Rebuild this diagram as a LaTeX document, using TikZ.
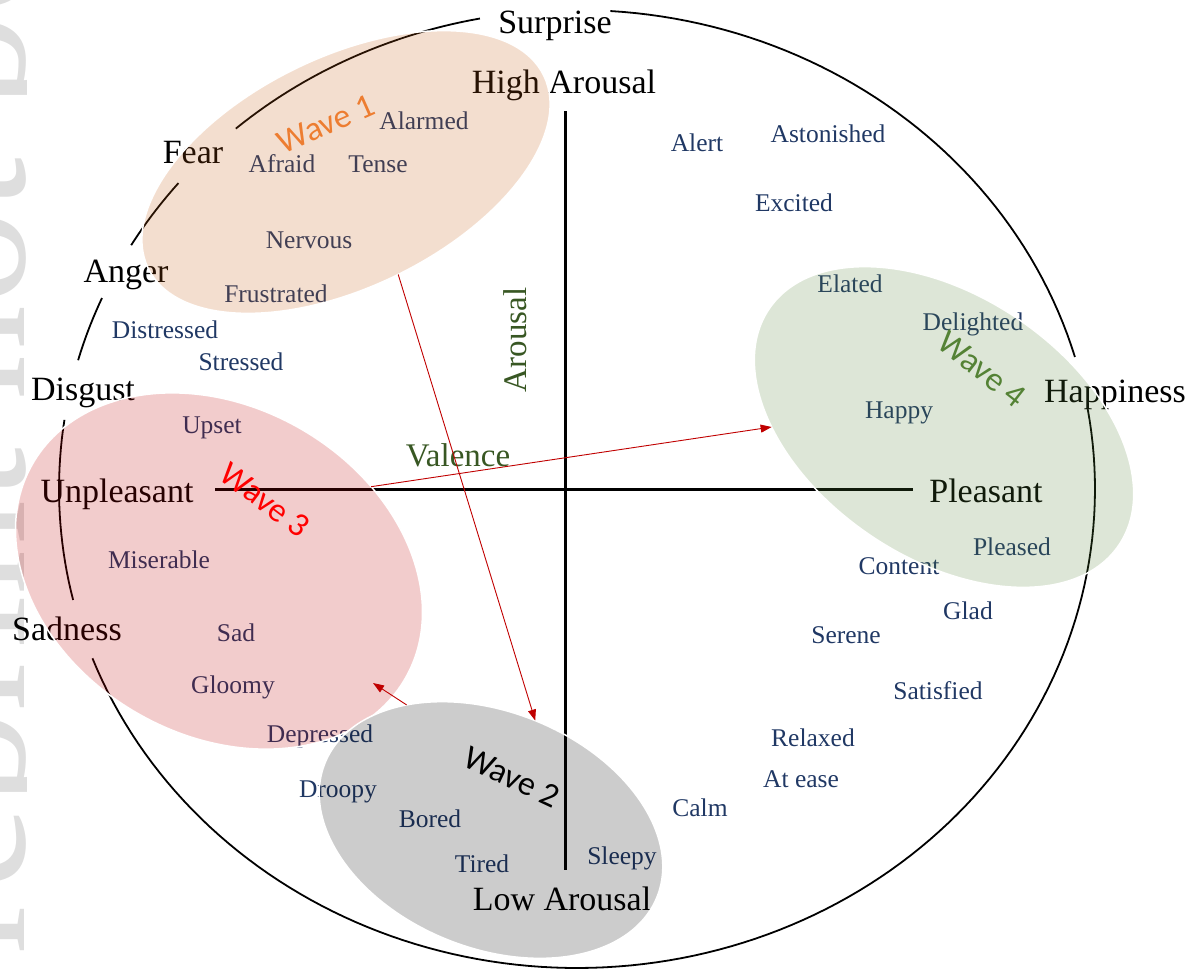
\documentclass[tikz,border=0pt]{standalone}
\usepackage{fontspec}
\setmainfont{Liberation Serif}
\newfontfamily\wavefont{Carlito}
\usetikzlibrary{shapes.geometric, arrows.meta}

\definecolor{navy}{HTML}{203864}
\definecolor{axisgreen}{HTML}{385723}
\definecolor{wavegreen}{HTML}{548235}
\definecolor{waveorange}{HTML}{ED7D31}
\definecolor{peach}{HTML}{C55A11}
\definecolor{rose}{HTML}{C00000}
\definecolor{arrowred}{HTML}{C00000}
\definecolor{markgray}{HTML}{DEDEDE}

\begin{document}
\begin{tikzpicture}[x=1pt, y=-1pt,
  big/.style={font=\fontsize{34}{40}\selectfont, text=black, inner sep=0pt, anchor=base},
  word/.style={font=\fontsize{25.5}{30}\selectfont, text=navy, inner sep=0pt, anchor=base},
  axislabel/.style={font=\fontsize{33}{40}\selectfont, text=axisgreen, inner sep=0pt},
  wavelabel/.style={font=\wavefont\fontsize{34}{40}\selectfont, inner sep=0pt},
  cluster/.style={ellipse, inner sep=0pt, outer sep=0pt, draw=white, line width=1.5pt, fill opacity=0.2},
  rim/.style={line width=1.8pt, black},
  axisline/.style={line width=3pt, black},
  flow/.style={arrowred, line width=0.9pt, -{Triangle[length=11pt, width=8pt]}},
]
\useasboundingbox (0,0) rectangle (1196,970);

% vertical margin stamp, cut by the page edge
\begin{scope}
  \clip (0,0) rectangle (26,970);
  \node[rotate=90, anchor=base west, text=markgray, inner sep=0pt,
        font=\fontsize{190}{200}\selectfont] (stamp) at (24,1060) {Preprint not peer reviewed};
\end{scope}

% emotion wheel, broken where the basic emotions are written
\draw[rim] plot[domain=-86.3:-16, samples=50, variable=\t] ({577+518*cos(\t)}, {489+479*sin(\t)});
\draw[rim] plot[domain=-9.7:159.3, samples=120, variable=\t] ({577+518*cos(\t)}, {489+479*sin(\t)});
\draw[rim] plot[domain=166.6:188.3, samples=20, variable=\t] ({577+518*cos(\t)}, {489+479*sin(\t)});
\draw[rim] plot[domain=195.6:203.5, samples=10, variable=\t] ({577+518*cos(\t)}, {489+479*sin(\t)});
\draw[rim] plot[domain=210.6:219.7, samples=10, variable=\t] ({577+518*cos(\t)}, {489+479*sin(\t)});
\draw[rim] plot[domain=228.8:259.2, samples=30, variable=\t] ({577+518*cos(\t)}, {489+479*sin(\t)});

% arousal / valence axes
\coordinate (ytop) at (565,111);
\coordinate (ybot) at (565,870);
\coordinate (xlft) at (215,489);
\coordinate (xrgt) at (913,489);
\draw[axisline] (ytop) -- (ybot);
\draw[axisline] (xlft) -- (xrgt);

\node[axislabel, rotate=90] (aro) at (515,340) {Arousal};
\node[axislabel, anchor=base] (val) at (458,466) {Valence};

% basic emotions and axis ends
\node[big] (surprise) at (555,33) {Surprise};
\node[big] (high) at (564,93) {High Arousal};
\node[big] (fear) at (193,163) {Fear};
\node[big] (anger) at (126,282) {Anger};
\node[big] (disgust) at (83,400) {Disgust};
\node[big] (unpl) at (117,502) {Unpleasant};
\node[big] (sadness) at (67,640) {Sadness};
\node[big] (happiness) at (1115,402) {Happiness};
\node[big] (pleasant) at (986,502) {Pleasant};
\node[big] (low) at (562,910) {Low Arousal};

% affect words
\node[word] (alarmed) at (424,129) {Alarmed};
\node[word] (afraid) at (282,172) {Afraid};
\node[word] (tense) at (378,172) {Tense};
\node[word] (nervous) at (309,248) {Nervous};
\node[word] (frustrated) at (276,302) {Frustrated};
\node[word] (distressed) at (165,338) {Distressed};
\node[word] (stressed) at (241,370) {Stressed};
\node[word] (upset) at (212,433) {Upset};
\node[word] (miserable) at (159,568) {Miserable};
\node[word] (sad) at (236,641) {Sad};
\node[word] (gloomy) at (233,693) {Gloomy};
\node[word] (depressed) at (320,742) {Depressed};
\node[word] (droopy) at (338,797) {Droopy};
\node[word] (bored) at (430,827) {Bored};
\node[word] (tired) at (482,872) {Tired};
\node[word] (sleepy) at (622,864) {Sleepy};
\node[word] (calm) at (700,816) {Calm};
\node[word] (atease) at (801,787) {At ease};
\node[word] (relaxed) at (813,746) {Relaxed};
\node[word] (satisfied) at (938,699) {Satisfied};
\node[word] (serene) at (846,643) {Serene};
\node[word] (glad) at (968,619) {Glad};
\node[word] (content) at (899,574) {Content};
\node[word] (pleased) at (1012,555) {Pleased};
\node[word] (happy) at (899,418) {Happy};
\node[word] (delighted) at (973,330) {Delighted};
\node[word] (elated) at (850,292) {Elated};
\node[word] (excited) at (794,211) {Excited};
\node[word] (alert) at (697,151) {Alert};
\node[word] (astonished) at (828,142) {Astonished};

% the four waves
\node[cluster, fill=peach, rotate=26, minimum width=440pt, minimum height=230pt] (w1) at (346,172) {};
\node[cluster, fill=rose, rotate=-30, minimum width=430pt, minimum height=328pt] (w3) at (219,571) {};
\node[cluster, fill=black, rotate=-22, minimum width=358pt, minimum height=236pt] (w2) at (491,830) {};
\node[cluster, fill=wavegreen, rotate=-34, minimum width=422pt, minimum height=262pt] (w4) at (944,427) {};

\node[wavelabel, text=waveorange, rotate=24] (l1) at (326,124) {Wave 1};
\node[wavelabel, text=black, rotate=-25] (l2) at (512,777) {Wave 2};
\node[wavelabel, text=red, rotate=-37] (l3) at (265,500) {Wave 3};
\node[wavelabel, text=wavegreen, rotate=-38] (l4) at (982,369) {Wave 4};

% progression between waves
\coordinate (t3) at (373,683);
\draw[flow] (w1.271) -- (w2.90);
\draw[flow] (w2.146) -- (t3);
\draw[flow] (w3.59) -- (w4.214);
\end{tikzpicture}
\end{document}
